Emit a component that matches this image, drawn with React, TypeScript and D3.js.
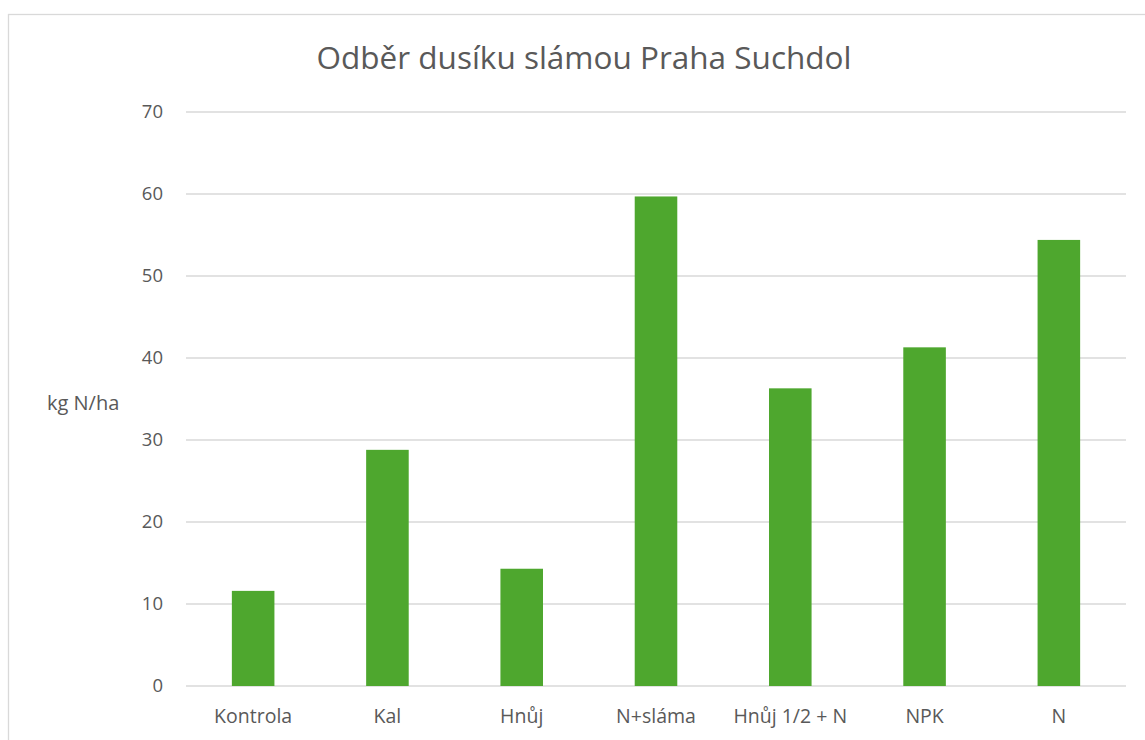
import React from "react";
import * as d3 from "d3";

const categories: string[] = ["Kontrola", "Kal", "Hnůj", "N+sláma", "Hnůj 1/2 + N", "NPK", "N"];
const values: number[] = [11.6, 28.8, 14.3, 59.7, 36.3, 41.3, 54.4];
const yTicks: number[] = [0, 10, 20, 30, 40, 50, 60, 70];
const title = "Odběr dusíku slámou Praha Suchdol";
const yAxisTitle = "kg N/ha";

const W = 1145;
const H = 740;
const plot = { left: 186, right: 1126, top: 112, bottom: 686 };
const FONT = "'Open Sans', Lato, sans-serif";
const TEXT = "#595959";
const GRID = "#d9d9d9";
const BAR = "#4ea72e";

export default function App() {
  const x = d3
    .scaleBand<string>()
    .domain(categories)
    .range([plot.left, plot.right])
    .paddingInner(0.683)
    .paddingOuter(0.3415);
  const y = d3.scaleLinear().domain([0, 70]).range([plot.bottom, plot.top]);

  return (
    <svg
      width={W}
      height={H}
      style={{ position: "absolute", left: 0, top: 0, display: "block", background: "#fff" }}
    >
      <rect x={8.5} y={14.5} width={W + 20} height={H + 20} fill="#fff" stroke={GRID} strokeWidth={1.3} />
      <text x={584} y={69} textAnchor="middle" fontFamily={FONT} fontSize={31.5} fill={TEXT}>
        {title}
      </text>
      {yTicks.map((t) => (
        <g key={t}>
          <line x1={plot.left} x2={plot.right} y1={y(t)} y2={y(t)} stroke={GRID} strokeWidth={1.3} />
          <text
            x={163}
            y={y(t)}
            dy="0.35em"
            textAnchor="end"
            fontFamily={FONT}
            fontSize={18.5}
            fill={TEXT}
          >
            {t}
          </text>
        </g>
      ))}
      <text x={47} y={403} dy="0.35em" fontFamily={FONT} fontSize={20} fill={TEXT}>
        {yAxisTitle}
      </text>
      {categories.map((c, i) => (
        <rect
          key={c}
          x={x(c)!}
          y={y(values[i])}
          width={x.bandwidth()}
          height={y(0) - y(values[i])}
          fill={BAR}
        />
      ))}
      {categories.map((c) => (
        <text
          key={c}
          x={x(c)! + x.bandwidth() / 2}
          y={716}
          dy="0.35em"
          textAnchor="middle"
          fontFamily={FONT}
          fontSize={19.5}
          fill={TEXT}
        >
          {c}
        </text>
      ))}
    </svg>
  );
}
